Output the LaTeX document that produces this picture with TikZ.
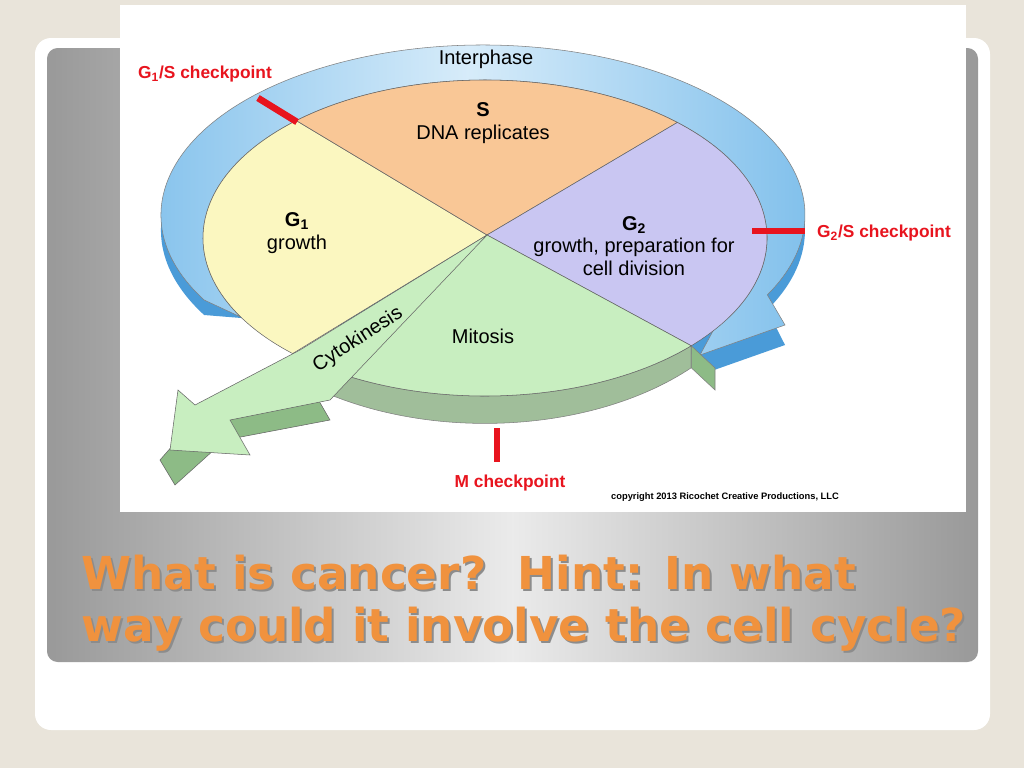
\documentclass[tikz,border=0pt]{standalone}
\usepackage{fontspec}
\setmainfont{Liberation Sans}
\newfontfamily\titlefont{DejaVu Sans}
\usetikzlibrary{positioning,calc}
\definecolor{slidebg}{HTML}{E9E4DA}
\definecolor{ringblue}{HTML}{8CC8F0}
\definecolor{ringdark}{HTML}{4A9BD8}
\definecolor{sorange}{HTML}{F9C796}
\definecolor{gyellow}{HTML}{FBF7C0}
\definecolor{gpurple}{HTML}{C9C6F2}
\definecolor{mgreen}{HTML}{C8EEC0}
\definecolor{mdark}{HTML}{8DBB86}
\definecolor{ckred}{HTML}{E8141E}
\definecolor{titleorange}{HTML}{F0923E}
\tikzset{
  phase/.style={align=center, font=\fontsize{15}{17}\selectfont},
  check/.style={text=ckred, font=\bfseries\fontsize{13}{15}\selectfont},
  gate/.style={draw=ckred, line width=5pt},
  wedge/.style={draw=black!60, thin},
  headline/.style={anchor=north west, align=left, font=\titlefont\bfseries\fontsize{34}{39}\selectfont},
}
\begin{document}
\begin{tikzpicture}[x=0.75pt,y=-0.75pt]
    % slide
    \fill[slidebg] (0,0) rectangle (1024,768);
    \useasboundingbox (0,0) rectangle (1024,768);
    \fill[white, rounded corners=12pt] (35,38) rectangle (990,730);
    \shade[left color=black!40, right color=black!40, middle color=black!8, rounded corners=8pt] (47,48) rectangle (978,662);
    \fill[white] (120,5) rectangle (966,512);

    % blue ring, side then top
    \coordinate (ro) at (483,230);
    \fill[ringdark] (ro) ++(150:322 and 170) arc[start angle=150, end angle=388, x radius=322, y radius=170]
      -- (785,345) -- (700,375) -- (700,355) -- cycle;
    \coordinate (ro) at (483,215);
    \coordinate (ri) at (485,238);
    \shade[left color=ringblue!80!ringdark, right color=ringblue!80!ringdark, middle color=ringblue!35, draw=black!50, thin]
      (ro) ++(150:322 and 170) arc[start angle=150, end angle=388, x radius=322, y radius=170]
      -- (785,325) -- (700,355) -- (720,318)
      -- ($(ri)+(30:282 and 158)$) arc[start angle=30, end angle=-210, x radius=282, y radius=158] -- cycle;

    % green side of mitosis
    \fill[mgreen!80!black, draw=black!50] ($(ri)+(130:282 and 158)$) arc[start angle=130, end angle=43, x radius=282, y radius=158]
      -- ++(0,22) arc[start angle=43, end angle=130, x radius=282, y radius=175] -- cycle;
    \fill[mdark, draw=black!50] ($(ri)+(43:282 and 158)$) -- ++(0,22) -- (715,390) -- (715,368) -- cycle;

    % wedges
    \coordinate (c) at (487,235);
    \filldraw[wedge, fill=gyellow] (c) -- ($(ri)+(133:282 and 158)$) arc[start angle=133, end angle=228, x radius=282, y radius=158] -- cycle;
    \filldraw[wedge, fill=sorange] (c) -- ($(ri)+(228:282 and 158)$) arc[start angle=228, end angle=313, x radius=282, y radius=158] -- cycle;
    \filldraw[wedge, fill=gpurple] (c) -- ($(ri)+(313:282 and 158)$) arc[start angle=313, end angle=403, x radius=282, y radius=158] -- cycle;
    \filldraw[wedge, fill=mgreen] (c) -- ($(ri)+(43:282 and 158)$) arc[start angle=43, end angle=120, x radius=282, y radius=158] -- cycle;

    % cytokinesis arrow
    \filldraw[wedge, fill=mdark] (300,368) -- (195,420) -- (160,460) -- (175,485) -- (225,440) -- (330,420) -- cycle;
    \filldraw[wedge, fill=mgreen] (c) -- (330,400) -- (230,420) -- (250,455) -- (170,450) -- (178,390) -- (195,405) -- (300,350) -- cycle;

    % checkpoints
    \draw[gate] (258,98) -- (297,122);
    \draw[gate] (752,231) -- (805,231);
    \draw[gate] (497,428) -- (497,462);

    % labels
    \node[phase] (inter) at (486,59) {Interphase};
    \node[phase] (s) at (483,123) {\textbf{S}\\DNA replicates};
    \node[phase] (g1) at (297,233) {\textbf{G\textsubscript{1}}\\growth};
    \node[phase] (g2) at (634,246) {\textbf{G\textsubscript{2}}\\growth, preparation for\\cell division};
    \node[phase] (mit) at (483,336) {Mitosis};
    \node[phase, rotate=33, inner sep=0pt] (cyto) at (358,340) {Cytokinesis};
    \node[check] (g1s) at (205,74) {G\textsubscript{1}/S checkpoint};
    \node[check] (g2s) at (884,233) {G\textsubscript{2}/S checkpoint};
    \node[check] (mck) at (510,483) {M checkpoint};
    \node[font=\bfseries\fontsize{7}{8}\selectfont] (copy) at (725,497) {copyright 2013 Ricochet Creative Productions, LLC};

    % title
    \node[headline, text=black!45] at (79,552) {What is cancer?\ \ Hint: In what\\way could it involve the cell cycle?};
    \node[headline, text=titleorange] (title) at (77,550) {What is cancer?\ \ Hint: In what\\way could it involve the cell cycle?};
\end{tikzpicture}
\end{document}
